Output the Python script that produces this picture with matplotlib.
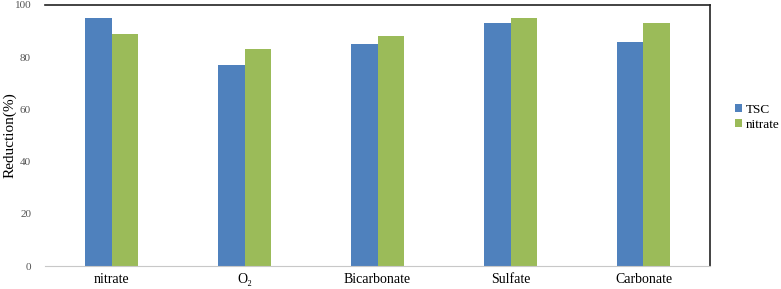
import matplotlib
matplotlib.use("Agg")
import matplotlib.pyplot as plt
import numpy as np

categories = ["nitrate", "O\u2082", "Bicarbonate", "Sulfate", "Carbonate"]
tsc = [95, 77, 85, 93, 86]
nitrate = [89, 83, 88, 95, 93]

plt.rcParams["font.family"] = ["Liberation Serif", "DejaVu Serif"]

fig = plt.figure(figsize=(7.81, 2.89), dpi=100)
ax = fig.add_axes([45 / 781, 1 - 266 / 289, 665 / 781, 261 / 289])

x = np.arange(len(categories))
w = 0.2
ax.bar(x - w / 2, tsc, w, color="#4F81BD", label="TSC")
ax.bar(x + w / 2, nitrate, w, color="#9BBB59", label="nitrate")

ax.set_xlim(-0.5, len(categories) - 0.5)
ax.set_ylim(0, 100)
ax.set_yticks(range(0, 101, 20))
ax.tick_params(axis="y", length=0, labelsize=8, labelcolor="#555555", pad=10)
ax.tick_params(axis="x", length=0, labelsize=10, pad=5)
ax.set_xticks(x)
ax.set_xticklabels(categories)
ax.set_ylabel("Reduction(%)", fontsize=11)
ax.yaxis.set_label_coords(-0.043, 0.5)

ax.spines["left"].set_visible(False)
ax.spines["bottom"].set_color("#c8c8c8")
ax.spines["top"].set_color("#222222")
ax.spines["right"].set_color("#222222")
ax.spines["top"].set_linewidth(1.2)
ax.spines["right"].set_linewidth(1.2)

ax.legend(loc="center left", bbox_to_anchor=(1.028, 0.57), frameon=False,
          fontsize=9.5, handlelength=0.55, handleheight=0.55, handletextpad=0.25,
          labelspacing=0.2, borderpad=0)

fig.savefig("out.png", dpi=100)
